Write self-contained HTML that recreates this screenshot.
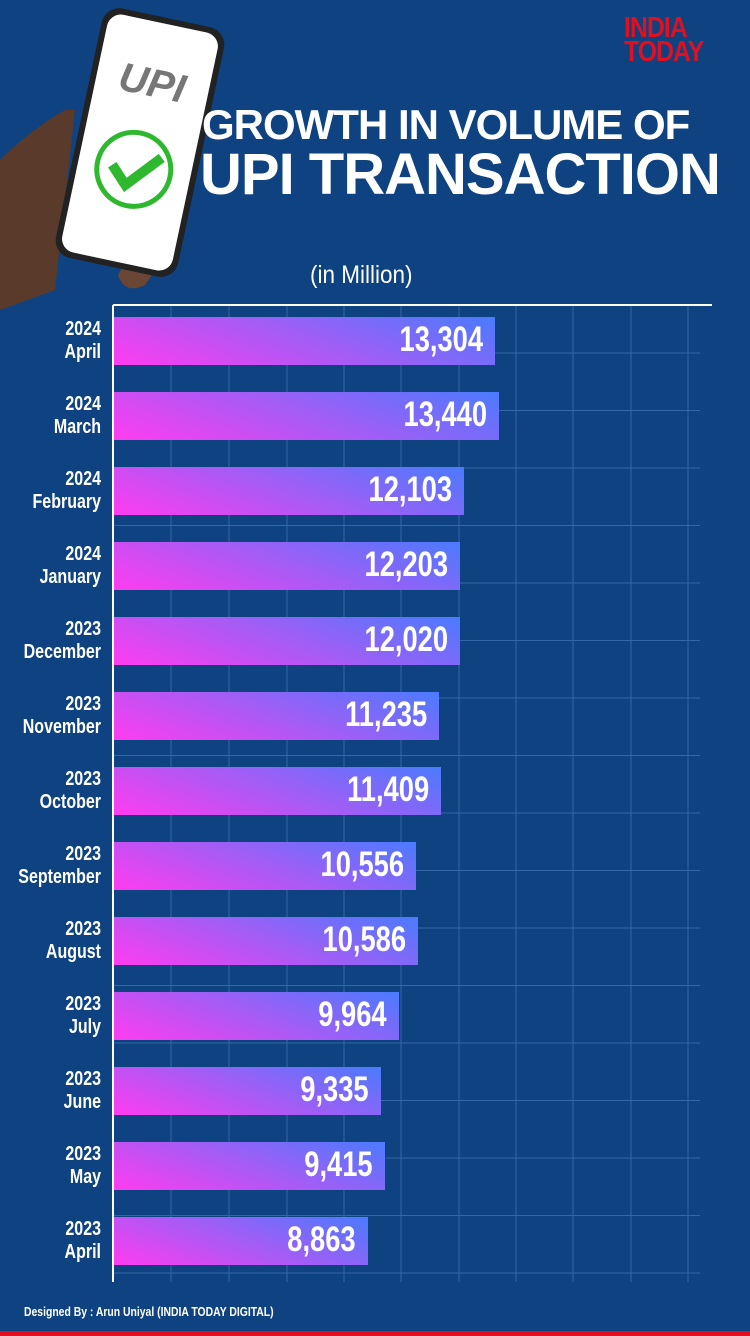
<!DOCTYPE html>
<html><head><meta charset="utf-8"><style>
body{margin:0;width:750px;height:1336px;overflow:hidden;background:#0e4281;font-family:"Liberation Sans",sans-serif;position:relative}
.abs{position:absolute}
.lab{position:absolute;right:649px;width:120px;text-align:right;color:#fff;font-weight:bold;font-size:20px;line-height:23px;transform:scaleX(.8);transform-origin:right center}
.bar{position:absolute;left:114px;height:48px;background:linear-gradient(20deg,#ff3cf0 0%,#a55cf5 50%,#4a7bff 100%)}
.val{position:absolute;right:12px;top:4px;color:#fff;font-weight:bold;font-size:35px;line-height:38px;transform:scaleX(.78);transform-origin:right center}
</style></head><body>
<svg class="abs" style="left:0;top:0" width="750" height="1336">
<g stroke="#3566a6" stroke-width="1">
<line x1="171" y1="305" x2="171" y2="1282"/><line x1="229" y1="305" x2="229" y2="1282"/><line x1="287" y1="305" x2="287" y2="1282"/><line x1="344" y1="305" x2="344" y2="1282"/><line x1="401" y1="305" x2="401" y2="1282"/><line x1="459" y1="305" x2="459" y2="1282"/><line x1="516" y1="305" x2="516" y2="1282"/><line x1="573" y1="305" x2="573" y2="1282"/><line x1="631" y1="305" x2="631" y2="1282"/><line x1="688" y1="305" x2="688" y2="1282"/>
</g>
<g stroke="#3566a6" stroke-width="1" id="h"></g>
<line x1="113" y1="305" x2="113" y2="1282" stroke="#fff" stroke-width="2"/>
<line x1="113" y1="305" x2="712" y2="305" stroke="#fff" stroke-width="2"/>
<!-- hand -->
<path d="M0 160 Q30 130 65 110 L75 110 L55 290 L0 310 Z" fill="#5a3a2a"/>
<path d="M150 220 Q175 190 180 180 Q188 215 170 250 L145 285 Q125 295 118 275 Z" fill="#6b4634"/>
<!-- phone -->
<g transform="rotate(12 140 140)">
<rect x="78" y="15" width="125" height="255" rx="18" fill="#222"/>
<rect x="84" y="21" width="113" height="243" rx="14" fill="#fff"/>
<text x="140" y="95" font-size="40" font-style="italic" font-weight="bold" fill="#777" text-anchor="middle" font-family="Liberation Sans">UPI</text>
<circle cx="140" cy="170" r="37" fill="none" stroke="#2db82d" stroke-width="5"/>
<path d="M118 170 L135 187 L165 153" fill="none" stroke="#2db82d" stroke-width="10"/>
</g>
<rect x="0" y="1331" width="750" height="5" fill="#e01020"/>
</svg>
<div class="abs" style="left:624px;top:16px;color:#e01020;font-weight:bold;font-size:29px;line-height:24px;transform:scaleX(.85);transform-origin:left top;letter-spacing:-1px">INDIA<br>TODAY</div>
<div class="abs" style="left:202px;top:102px;color:#fff;font-weight:bold;font-size:42px;line-height:46px;white-space:nowrap;letter-spacing:-1px">GROWTH IN VOLUME OF</div>
<div class="abs" style="left:200px;top:144px;color:#fff;font-weight:bold;font-size:58px;line-height:62px;white-space:nowrap;letter-spacing:-1px">UPI TRANSACTION</div>
<div class="abs" style="left:310px;top:260px;color:#fff;font-size:25px;line-height:30px;transform:scaleX(.9);transform-origin:left">(in Million)</div>
<div class="abs" style="left:24px;top:1304px;color:#fff;font-weight:bold;font-size:13px;transform:scaleX(.8);transform-origin:left;white-space:nowrap">Designed By : Arun Uniyal (INDIA TODAY DIGITAL)</div>
<div id="c"></div>
<script>
var d=[["2024","April","13,304",495],["2024","March","13,440",499],["2024","February","12,103",464],["2024","January","12,203",460],["2023","December","12,020",460],["2023","November","11,235",439],["2023","October","11,409",441],["2023","September","10,556",416],["2023","August","10,586",418],["2023","July","9,964",399],["2023","June","9,335",381],["2023","May","9,415",385],["2023","April","8,863",368]];
var h="";
d.forEach(function(r,i){var y=317+i*75;var w=r[3]-114;
h+='<div class="lab" style="top:'+(y+1)+'px">'+r[0]+'<br>'+r[1]+'</div>';
h+='<div class="bar" style="top:'+y+'px;width:'+w+'px"><div class="val">'+r[2]+'</div></div>';});
document.getElementById("c").innerHTML=h;
var g="";for(var k=0;k<17;k++){var yy=353+k*57.5;g+='<line x1="114" y1="'+yy+'" x2="700" y2="'+yy+'"/>';}
document.getElementById("h").innerHTML=g;
</script>
</body></html>
